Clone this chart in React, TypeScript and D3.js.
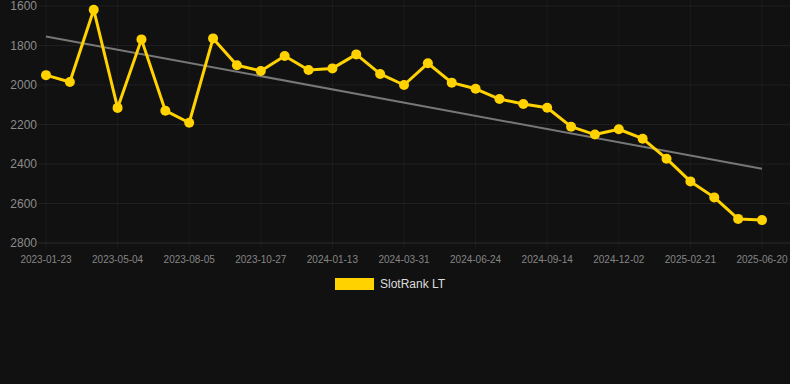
import React from "react";
import * as d3 from "d3";

const tickLabels = [
  "2023-01-23", "2023-05-04", "2023-08-05", "2023-10-27", "2024-01-13", "2024-03-31",
  "2024-06-24", "2024-09-14", "2024-12-02", "2025-02-21", "2025-06-20",
];
const values = [
  1950, 1985, 1619, 2116, 1769, 2130, 2191, 1764, 1900, 1929, 1853, 1924, 1916, 1845, 1944, 2000,
  1890, 1988, 2019, 2071, 2096, 2115, 2211, 2251, 2224, 2272, 2373, 2488, 2569, 2678, 2684,
];
const yTicks = [1600, 1800, 2000, 2200, 2400, 2600, 2800];
const seriesName = "SlotRank LT";

export default function App() {
  const W = 790, H = 384;
  const left = 46, right = 762, top = 6, bottom = 243;
  const n = values.length;
  const x = d3.scaleLinear().domain([0, n - 1]).range([left, right]);
  const y = d3.scaleLinear().domain([1600, 2800]).range([top, bottom]);

  // linear regression trend
  const idx = d3.range(n);
  const mx = d3.mean(idx)!;
  const my = d3.mean(values)!;
  const slope =
    d3.sum(idx.map((i) => (i - mx) * (values[i] - my))) /
    d3.sum(idx.map((i) => (i - mx) * (i - mx)));
  const icpt = my - slope * mx;

  const line = d3
    .line<number>()
    .x((_, i) => x(i))
    .y((d) => y(d));

  const font = "Helvetica, Arial, 'Liberation Sans', sans-serif";
  const grid = "rgba(255,255,255,0.06)";

  return (
    <svg
      width={W}
      height={H}
      style={{ position: "absolute", left: 0, top: 0, background: "#111111" }}
    >
      <rect width={W} height={H} fill="#111111" />
      {yTicks.map((t) => (
        <g key={t}>
          <line x1={38} x2={W} y1={y(t)} y2={y(t)} stroke={t === 2800 ? "rgba(255,255,255,0.1)" : grid} strokeWidth={1} />
          <text
            x={37}
            y={y(t)}
            dy="0.35em"
            textAnchor="end"
            fontSize={12}
            fontFamily={font}
            fill="#8c8c8c"
          >
            {t}
          </text>
        </g>
      ))}
      {tickLabels.map((lab, k) => {
        const xi = x(k * 3);
        return (
          <g key={lab}>
            <line x1={xi} x2={xi} y1={0} y2={bottom + 6} stroke="rgba(255,255,255,0.045)" strokeWidth={1} />
            <text
              x={xi}
              y={259}
              dy="0.35em"
              textAnchor="middle"
              fontSize={10}
              fontFamily={font}
              fill="#858585"
            >
              {lab}
            </text>
          </g>
        );
      })}
      <line
        x1={x(0)}
        y1={y(icpt)}
        x2={x(n - 1)}
        y2={y(icpt + slope * (n - 1))}
        stroke="#777777"
        strokeWidth={2}
      />
      <path d={line(values) || ""} fill="none" stroke="#FFD200" strokeWidth={3} strokeLinejoin="round" />
      {values.map((v, i) => (
        <circle key={i} cx={x(i)} cy={y(v)} r={5} fill="#FFD200" />
      ))}
      <rect x={335} y={278} width={39} height={12} fill="#FFD200" />
      <text x={380} y={284} dy="0.35em" fontSize={12} fontFamily={font} fill="#dddddd">
        {seriesName}
      </text>
    </svg>
  );
}
